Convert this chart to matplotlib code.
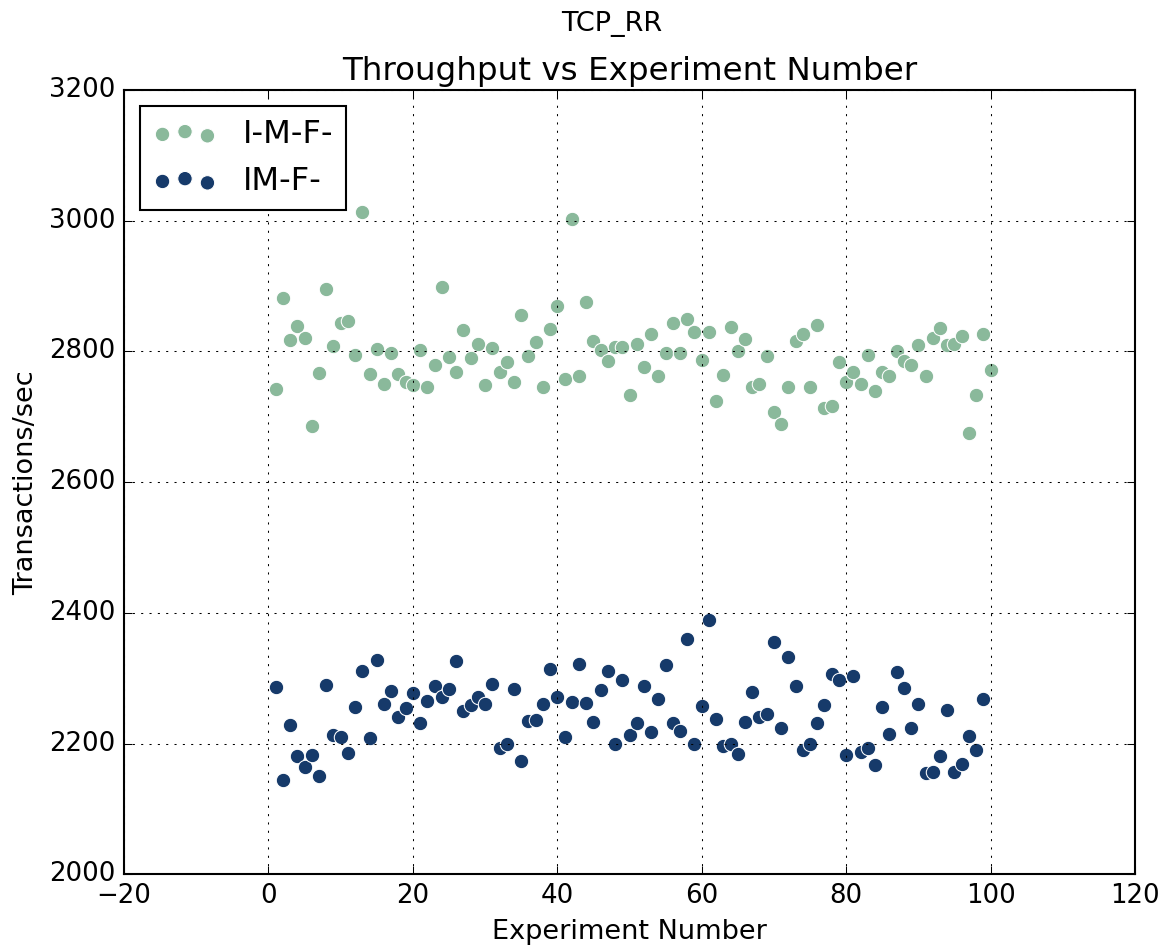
import numpy as np
import matplotlib
matplotlib.use("Agg")
import matplotlib.pyplot as plt

plt.style.use("classic")

# I-M-F- : experiments 1..100
imf_x = list(range(1, 101))
imf_y = [2742, 2882, 2817, 2839, 2821, 2686, 2767, 2896, 2809, 2843,
         2847, 2795, 3013, 2765, 2804, 2750, 2797, 2766, 2754, 2749,
         2803, 2745, 2780, 2898, 2792, 2769, 2833, 2790, 2812, 2748,
         2806, 2768, 2784, 2754, 2856, 2793, 2814, 2745, 2835, 2869,
         2758, 3003, 2762, 2875, 2816, 2803, 2785, 2807, 2807, 2733,
         2811, 2777, 2826, 2763, 2797, 2843, 2797, 2850, 2830, 2787,
         2830, 2725, 2764, 2837, 2800, 2819, 2746, 2750, 2793, 2707,
         2689, 2746, 2816, 2827, 2746, 2841, 2713, 2717, 2784, 2753,
         2769, 2751, 2794, 2739, 2768, 2763, 2801, 2786, 2779, 2810,
         2762, 2820, 2836, 2810, 2812, 2824, 2675, 2733, 2827, 2771]

# IM-F- : experiments 1..99
im_x = list(range(1, 100))
im_y = [2287, 2144, 2229, 2181, 2164, 2182, 2150, 2290, 2213, 2211,
        2186, 2256, 2311, 2208, 2328, 2260, 2280, 2241, 2255, 2277,
        2231, 2265, 2288, 2272, 2284, 2326, 2250, 2259, 2271, 2261,
        2292, 2193, 2199, 2283, 2173, 2234, 2237, 2260, 2315, 2271,
        2210, 2264, 2322, 2262, 2233, 2282, 2311, 2199, 2297, 2213,
        2232, 2288, 2218, 2269, 2320, 2231, 2220, 2360, 2199, 2257,
        2390, 2238, 2197, 2199, 2184, 2233, 2279, 2241, 2245, 2356,
        2224, 2333, 2289, 2191, 2199, 2231, 2259, 2306, 2298, 2182,
        2304, 2188, 2194, 2168, 2256, 2215, 2310, 2285, 2224, 2261,
        2155, 2157, 2181, 2252, 2156, 2169, 2212, 2191, 2268]

green = "#8ab99b"
navy = "#163a6a"

fig = plt.figure(figsize=(1169 / 150, 950 / 150), dpi=150, facecolor="white")
ax = fig.add_axes([0.1061, 0.0795, 0.8648, 0.8258])

ax.scatter(imf_x, imf_y, s=48, c=green, edgecolors="white", linewidths=0.5, label="I-M-F-")
ax.scatter(im_x, im_y, s=48, c=navy, edgecolors="white", linewidths=0.5, label="IM-F-")

ax.set_xlim(-20, 120)
ax.set_ylim(2000, 3200)
ax.grid(True)
ax.set_xlabel("Experiment Number", fontsize=13)
ax.set_ylabel("Transactions/sec", fontsize=13)
ax.set_title("Throughput vs Experiment Number", fontsize=15.6)
ax.tick_params(labelsize=12.5)
fig.suptitle("TCP_RR", fontsize=13, x=0.5235, y=0.988)

ax.legend(loc="upper left", scatterpoints=3, fontsize=15.4)

fig.savefig("out.png", dpi=150, facecolor="white")
